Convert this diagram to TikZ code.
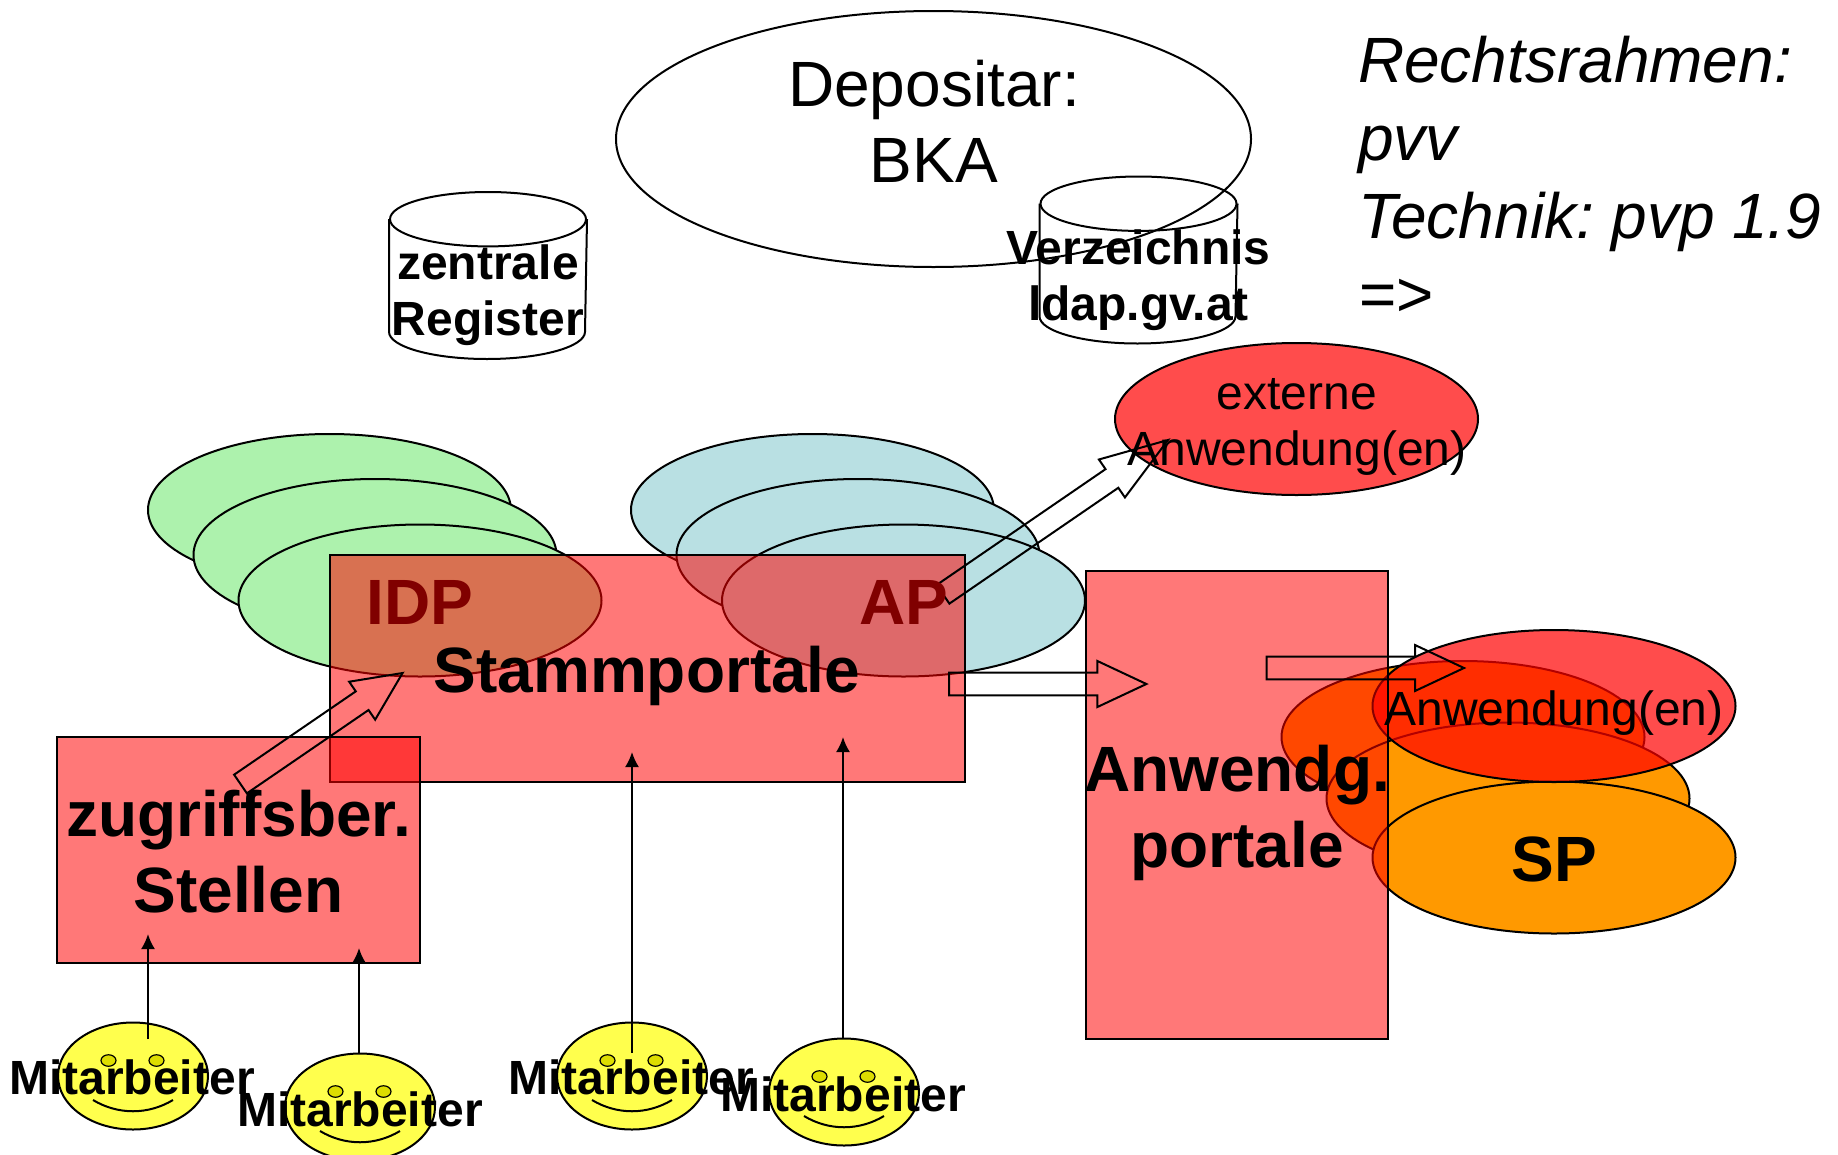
\documentclass[tikz,border=0pt]{standalone}
\usepackage{fontspec}
\setmainfont{Liberation Sans}
\usepackage{tikz}
\usetikzlibrary{shapes.geometric,shapes,calc,positioning,arrows.meta}
\definecolor{greenoval}{HTML}{ADF2AD}
\definecolor{blueoval}{HTML}{B9E0E3}
\definecolor{orangeoval}{HTML}{FF9900}
\definecolor{smileface}{HTML}{FFFF4D}
\definecolor{smileeye}{HTML}{DDDD00}
\definecolor{darkred}{HTML}{800000}
\tikzset{
  oval/.style={ellipse,draw=black,inner sep=0pt,minimum width=363pt,minimum height=152pt},
  portal/.style={draw=black,fill=red,fill opacity=.53,inner sep=0pt},
  tank/.style={inner sep=0pt,minimum width=196pt,minimum height=165pt},
  blockline/.style={draw=black,line join=miter},
  big/.style={font=\fontsize{64}{76}\selectfont,align=center,inner sep=0pt},
  mid/.style={font=\fontsize{48}{56}\selectfont,align=center,inner sep=0pt}
}
\newcommand{\tankline}[1]{
  \draw ([yshift=-27.2pt]#1.north) ellipse (98pt and 27.2pt);
  \draw ([yshift=-27.2pt]#1.north west) -- ([yshift=27.2pt]#1.south west) arc (180:360:98pt and 27.2pt) -- ([yshift=-27.2pt]#1.north east);
}
\newcommand{\blockarrow}[3]{
  \coordinate (n) at ($(#2)!#3pt!(#1)$);
  \draw[blockline] ($(#1)!11.3pt!90:(#2)$) -- ($(n)!11.3pt!90:(#2)$) -- ($(n)!23pt!90:(#2)$)
    -- (#2) -- ($(n)!23pt!-90:(#2)$) -- ($(n)!11.3pt!-90:(#2)$) -- ($(#1)!11.3pt!-90:(#2)$) -- cycle;
}
\begin{document}
\begin{tikzpicture}[x=1pt,y=-1pt,line width=2pt,>={Latex[length=15pt,width=14pt]}]
   \useasboundingbox (0,0) rectangle (1838,1154);
   \node (dep) [oval,minimum width=635pt,minimum height=256pt] at (933.5,139) {};
   \node (reg) [tank] at (488,275.5) {};
   \node (ver) [tank] at (1138.5,260) {};
   \tankline{reg}
   \tankline{ver}
   \begin{scope}[every node/.style={oval,fill=greenoval}]
    \node (g1) at (329.5,510) {};
    \node (g2) at (375,555) {};
    \node (g3) at (420,600.5) {};
   \end{scope}
   \begin{scope}[every node/.style={oval,fill=blueoval}]
    \node (b1) at (812.5,510) {};
    \node (b2) at (858,555) {};
    \node (b3) at (903.5,600.5) {};
   \end{scope}
   \begin{scope}[every node/.style={oval,fill=orangeoval}]
    \node (o1) at (1463,737) {};
    \node (o2) at (1508,798.5) {};
    \node (o3) at (1554,857.5) {};
   \end{scope}
   \begin{scope}[every node/.style={oval,fill=red,fill opacity=.7,draw opacity=1}]
    \node (ext) at (1296.5,419) {};
    \node (anw) at (1554,706) {};
   \end{scope}
   \begin{scope}[every node/.style={portal}]
    \node (stamm) [minimum width=635pt,minimum height=227pt] at (647.25,668.5) {};
    \node (zug) [minimum width=363pt,minimum height=226pt] at (238.5,850) {};
    \node (ap) [minimum width=302pt,minimum height=467.5pt] at (1236.5,804.75) {};
   \end{scope}
   \foreach \n/\px/\py in {1/133/1076,2/360/1107,3/632/1076,4/844/1092}{
    \node (m\n) [ellipse,draw=black,fill=smileface,inner sep=0pt,minimum width=150pt,minimum height=107pt] at (\px,\py) {};
    \node (l\n) [ellipse,draw=black,fill=smileeye,inner sep=0pt,line width=1.2pt,minimum width=15pt,minimum height=11.5pt] at (\px-24.5,\py-15.5) {};
    \node (r\n) [ellipse,draw=black,fill=smileeye,inner sep=0pt,line width=1.2pt,minimum width=15pt,minimum height=11.5pt] at (\px+23.5,\py-15.5) {};
    \draw (\px-40,\py+24) .. controls (\px-15,\py+39) and (\px+15,\py+39) .. (\px+40,\py+24);
   }
   \coordinate (f1) at (148,1039);
   \coordinate (t1) at (148,934);
   \coordinate (f2) at (359,1053);
   \coordinate (t2) at (359,948);
   \coordinate (f3) at (632,1053);
   \coordinate (t3) at (632,752);
   \coordinate (f4) at (843,1039);
   \coordinate (t4) at (843,737);
   \begin{scope}[->]
    \draw (f1) -- (t1);
    \draw (f2) -- (t2);
    \draw (f3) -- (t3);
    \draw (f4) -- (t4);
   \end{scope}
   \coordinate (a1) at (943,594.3);
   \coordinate (a2) at (1168,440);
   \coordinate (c1) at (949,684);
   \coordinate (c2) at (1146.4,684);
   \coordinate (d1) at (1266.6,668);
   \coordinate (d2) at (1464,668);
   \coordinate (e1) at (240.5,784);
   \coordinate (e2) at (402.6,673);
   \blockarrow{a1}{a2}{68}
   \blockarrow{c1}{c2}{49}
   \blockarrow{d1}{d2}{49}
   \blockarrow{e1}{e2}{49}
   \begin{scope}[every node/.style={big}]
    \node (tdep) at (934,121.5) {Depositar:\\BKA};
    \node (tidp) [text=darkred,font=\fontsize{64}{76}\selectfont\bfseries] at (420,602.5) {IDP};
    \node (tap) [text=darkred,font=\fontsize{64}{76}\selectfont\bfseries] at (904,602.5) {AP};
    \node (tstamm) [font=\fontsize{64}{76}\selectfont\bfseries] at (647,676) {Stammportale};
    \node (tzug) [font=\fontsize{64}{76}\selectfont\bfseries] at (238.5,852) {zugriffsber.\\Stellen};
    \node (tap2) [font=\fontsize{64}{76}\selectfont\bfseries] at (1237,812.5) {Anwendg.\\portale};
    \node (tsp) [font=\fontsize{64}{76}\selectfont\bfseries] at (1554,859) {SP};
    \node (trecht) [align=left,anchor=west,font=\fontsize{64}{78}\selectfont\itshape] at (1357,176.5) {Rechtsrahmen:\\pvv\\Technik:\hspace{17.5pt}pvp\hspace{17.5pt}1.9\\=>};
   \end{scope}
   \begin{scope}[every node/.style={mid}]
    \node (treg) [font=\fontsize{48}{56}\selectfont\bfseries] at (488,295.2) {zentrale\\Register};
    \node (tver) [font=\fontsize{48}{56}\selectfont\bfseries] at (1138.5,280) {Verzeichnis\\ldap.gv.at};
    \node (text) at (1297,427) {externe\\Anwendung(en)};
    \node (tanw) at (1554,712.7) {Anwendung(en)};
    \node (tm1) [font=\fontsize{48}{56}\selectfont\bfseries] at (132,1077) {Mitarbeiter};
    \node (tm2) [font=\fontsize{48}{56}\selectfont\bfseries] at (360,1109) {Mitarbeiter};
    \node (tm3) [font=\fontsize{48}{56}\selectfont\bfseries] at (631,1077) {Mitarbeiter};
    \node (tm4) [font=\fontsize{48}{56}\selectfont\bfseries] at (843,1094) {Mitarbeiter};
   \end{scope}
\end{tikzpicture}
\end{document}
